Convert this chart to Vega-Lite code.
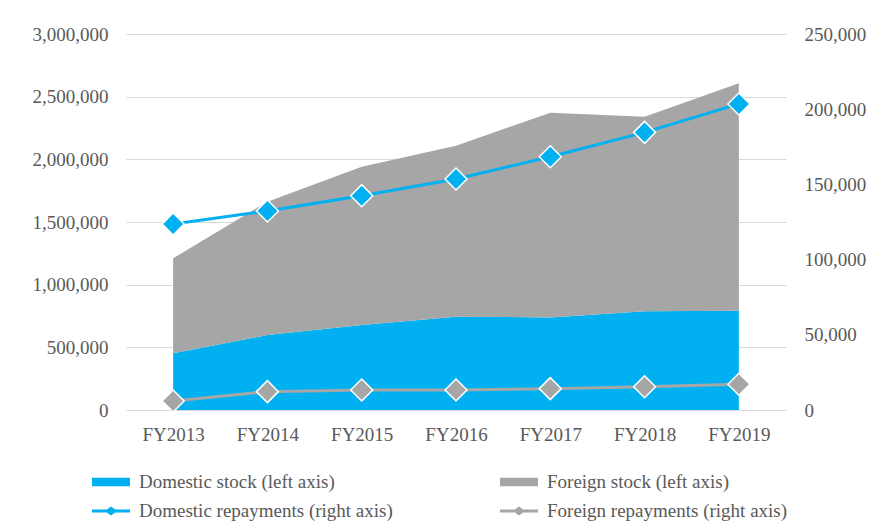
{
  "$schema": "https://vega.github.io/schema/vega-lite/v6.json",
  "width": 660,
  "height": 376,
  "autosize": {"type": "none"},
  "padding": {"left": 126, "top": 34, "right": 100, "bottom": 119},
  "config": {
    "font": "Liberation Serif",
    "view": {"stroke": null},
    "axis": {
      "labelFont": "Liberation Serif",
      "labelFontSize": 19,
      "labelColor": "#595959",
      "domain": false,
      "ticks": false,
      "grid": false,
      "title": null
    },
    "legend": {
      "labelFont": "Liberation Serif",
      "labelFontSize": 19,
      "labelColor": "#595959",
      "labelLimit": 500
    }
  },
  "data": {
    "values": [
      {"year": "FY2013", "series": "Domestic stock (left axis)", "kind": "stock", "value": 452000},
      {"year": "FY2014", "series": "Domestic stock (left axis)", "kind": "stock", "value": 598000},
      {"year": "FY2015", "series": "Domestic stock (left axis)", "kind": "stock", "value": 678000},
      {"year": "FY2016", "series": "Domestic stock (left axis)", "kind": "stock", "value": 745000},
      {"year": "FY2017", "series": "Domestic stock (left axis)", "kind": "stock", "value": 739000},
      {"year": "FY2018", "series": "Domestic stock (left axis)", "kind": "stock", "value": 787000},
      {"year": "FY2019", "series": "Domestic stock (left axis)", "kind": "stock", "value": 792000},
      {"year": "FY2013", "series": "Foreign stock (left axis)", "kind": "stock", "value": 758000},
      {"year": "FY2014", "series": "Foreign stock (left axis)", "kind": "stock", "value": 1064000},
      {"year": "FY2015", "series": "Foreign stock (left axis)", "kind": "stock", "value": 1263000},
      {"year": "FY2016", "series": "Foreign stock (left axis)", "kind": "stock", "value": 1364000},
      {"year": "FY2017", "series": "Foreign stock (left axis)", "kind": "stock", "value": 1633000},
      {"year": "FY2018", "series": "Foreign stock (left axis)", "kind": "stock", "value": 1553000},
      {"year": "FY2019", "series": "Foreign stock (left axis)", "kind": "stock", "value": 1815000},
      {"year": "FY2013", "series": "Domestic repayments (right axis)", "kind": "repay", "value": 123700},
      {"year": "FY2014", "series": "Domestic repayments (right axis)", "kind": "repay", "value": 132300},
      {"year": "FY2015", "series": "Domestic repayments (right axis)", "kind": "repay", "value": 142500},
      {"year": "FY2016", "series": "Domestic repayments (right axis)", "kind": "repay", "value": 153600},
      {"year": "FY2017", "series": "Domestic repayments (right axis)", "kind": "repay", "value": 168400},
      {"year": "FY2018", "series": "Domestic repayments (right axis)", "kind": "repay", "value": 184600},
      {"year": "FY2019", "series": "Domestic repayments (right axis)", "kind": "repay", "value": 203500},
      {"year": "FY2013", "series": "Foreign repayments (right axis)", "kind": "repay", "value": 6000},
      {"year": "FY2014", "series": "Foreign repayments (right axis)", "kind": "repay", "value": 12200},
      {"year": "FY2015", "series": "Foreign repayments (right axis)", "kind": "repay", "value": 13300},
      {"year": "FY2016", "series": "Foreign repayments (right axis)", "kind": "repay", "value": 13300},
      {"year": "FY2017", "series": "Foreign repayments (right axis)", "kind": "repay", "value": 14200},
      {"year": "FY2018", "series": "Foreign repayments (right axis)", "kind": "repay", "value": 15500},
      {"year": "FY2019", "series": "Foreign repayments (right axis)", "kind": "repay", "value": 17100}
    ]
  },
  "encoding": {
    "x": {
      "field": "year",
      "type": "ordinal",
      "scale": {"type": "point", "padding": 0.5},
      "axis": {"labelAngle": 0, "labelPadding": 15, "title": null}
    }
  },
  "layer": [
    {
      "encoding": {
        "y": {
          "field": "value",
          "type": "quantitative",
          "scale": {"domain": [0, 3000000], "nice": false},
          "axis": {
            "orient": "left",
            "values": [0, 500000, 1000000, 1500000, 2000000, 2500000, 3000000],
            "format": ",d",
            "grid": true,
            "gridColor": "#D9D9D9",
            "gridWidth": 1,
            "labelPadding": 18,
            "title": null
          }
        }
      },
      "layer": [
        {
          "mark": {"type": "point", "opacity": 0, "filled": true},
          "encoding": {
            "y": {"field": "value", "type": "quantitative", "stack": null},
            "color": {
              "field": "series",
              "type": "nominal",
              "scale": {
                "domain": ["Domestic stock (left axis)", "Foreign stock (left axis)", "Domestic repayments (right axis)", "Foreign repayments (right axis)"],
                "range": ["#00B0F0", "#A6A6A6", "#00B0F0", "#A6A6A6"]
              },
              "legend": {
                "title": null,
                "orient": "none",
                "legendX": -34,
                "legendY": 429,
                "columns": 2,
                "direction": "horizontal",
                "columnPadding": 107,
                "rowPadding": -6,
                "symbolSize": 1444,
                "symbolStrokeWidth": 0,
                "symbolOpacity": 1,
                "labelOffset": 9,
                "labelLimit": 500
              }
            },
            "shape": {
              "field": "series",
              "type": "nominal",
              "scale": {
                "domain": ["Domestic stock (left axis)", "Foreign stock (left axis)", "Domestic repayments (right axis)", "Foreign repayments (right axis)"],
                "range": [
                  "M-1,-0.22L1,-0.22L1,0.22L-1,0.22Z",
                  "M-1,-0.22L1,-0.22L1,0.22L-1,0.22Z",
                  "M-1,-0.08L-0.22,-0.08L0,-0.24L0.22,-0.08L1,-0.08L1,0.08L0.22,0.08L0,0.24L-0.22,0.08L-1,0.08Z",
                  "M-1,-0.08L-0.22,-0.08L0,-0.24L0.22,-0.08L1,-0.08L1,0.08L0.22,0.08L0,0.24L-0.22,0.08L-1,0.08Z"
                ]
              },
              "legend": {
                "title": null,
                "orient": "none",
                "legendX": -34,
                "legendY": 429,
                "columns": 2,
                "direction": "horizontal",
                "columnPadding": 107,
                "rowPadding": -6,
                "symbolSize": 1444,
                "symbolStrokeWidth": 0,
                "symbolOpacity": 1,
                "labelOffset": 9,
                "labelLimit": 500
              }
            }
          }
        },
        {
          "transform": [{"filter": "datum.kind === 'stock'"}],
          "mark": {"type": "area", "opacity": 1},
          "encoding": {
            "y": {"field": "value", "type": "quantitative", "stack": "zero"},
            "detail": {"field": "series", "type": "nominal"},
            "order": {"field": "series", "sort": "ascending"},
            "fill": {
              "condition": {"test": "datum.series === 'Domestic stock (left axis)'", "value": "#00B0F0"},
              "value": "#A6A6A6"
            }
          }
        }
      ]
    },
    {
      "transform": [{"filter": "datum.kind === 'repay'"}],
      "encoding": {
        "y": {
          "field": "value",
          "type": "quantitative",
          "scale": {"domain": [0, 250000], "nice": false},
          "axis": {
            "orient": "right",
            "values": [0, 50000, 100000, 150000, 200000, 250000],
            "format": ",d",
            "grid": false,
            "labelPadding": 18,
            "title": null
          }
        }
      },
      "layer": [
        {
          "mark": {"type": "line", "strokeWidth": 3},
          "encoding": {
            "detail": {"field": "series", "type": "nominal"},
            "stroke": {
              "condition": {"test": "datum.series === 'Domestic repayments (right axis)'", "value": "#00B0F0"},
              "value": "#A6A6A6"
            }
          }
        },
        {
          "mark": {"type": "point", "shape": "diamond", "filled": true, "size": 484, "opacity": 1, "stroke": "#FFFFFF", "strokeWidth": 1.5},
          "encoding": {
            "fill": {
              "condition": {"test": "datum.series === 'Domestic repayments (right axis)'", "value": "#00B0F0"},
              "value": "#A6A6A6"
            }
          }
        }
      ]
    }
  ],
  "resolve": {"scale": {"y": "independent"}}
}
